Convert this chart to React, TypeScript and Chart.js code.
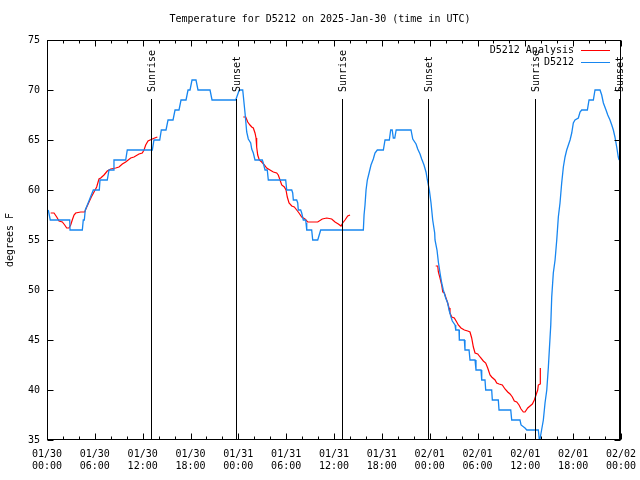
import { useEffect, useRef } from 'react';
import { Chart, registerables } from 'chart.js';

Chart.register(...registerables);

const TITLE = 'Temperature for D5212 on 2025-Jan-30 (time in UTC)';
const Y_LABEL = 'degrees F';
const SERIES_ANA = 'D5212 Analysis';
const SERIES_OBS = 'D5212';
const FONT = '"DejaVu Sans Mono", "Liberation Mono", monospace';

// x axis: hours since 01/30 00:00 UTC
const X_MIN = 0;
const X_MAX = 72;
const X_STEP = 2;
const X_LABEL_EVERY = 6;
const xTickDates = ['01/30', '01/30', '01/30', '01/30', '01/31', '01/31', '01/31', '01/31', '02/01', '02/01', '02/01', '02/01', '02/02'];
const xTickTimes = ['00:00', '06:00', '12:00', '18:00', '00:00', '06:00', '12:00', '18:00', '00:00', '06:00', '12:00', '18:00', '00:00'];

const Y_MIN = 35;
const Y_MAX = 75;
const Y_STEP = 5;

// Station observations (D5212)
const obsHours = [0.16, 0.41, 2.85, 2.89, 4.43, 4.55, 4.68, 4.8, 5.06, 5.31, 5.81, 6.56, 6.65, 7.56, 7.78, 8.28, 8.4, 9.87, 10.07, 13.21, 13.42, 14.14, 14.34, 14.93, 15.18, 15.81, 16.06, 16.56, 16.81, 17.44, 17.69, 17.94, 18.19, 18.69, 18.94, 20.45, 20.7, 23.67, 24.12, 24.55, 24.84, 25.05, 25.25, 25.55, 25.68, 25.88, 26.09, 27.01, 27.13, 27.35, 27.63, 27.76, 29.94, 30.07, 30.7, 30.82, 30.9, 31.32, 31.45, 31.52, 31.82, 31.95, 32.15, 32.45, 32.49, 32.58, 33.2, 33.33, 33.96, 34.33, 39.68, 39.77, 39.89, 40.02, 40.18, 40.43, 40.64, 40.93, 41.14, 41.43, 42.19, 42.4, 42.94, 43.11, 43.3, 43.44, 43.62, 43.8, 45.66, 45.88, 46.29, 46.5, 46.79, 47.0, 47.29, 47.54, 47.71, 47.96, 48.17, 48.38, 48.63, 48.67, 48.92, 49.09, 49.3, 49.51, 49.71, 50.01, 50.26, 50.43, 50.68, 50.84, 51.18, 51.27, 51.68, 51.72, 52.35, 52.43, 52.94, 53.06, 53.69, 53.81, 54.44, 54.53, 54.94, 55.03, 55.78, 55.86, 56.61, 56.7, 58.17, 58.29, 59.33, 59.46, 59.96, 60.18, 61.63, 61.78, 61.93, 62.26, 62.47, 62.69, 62.89, 63.01, 63.19, 63.31, 63.51, 63.73, 63.94, 64.14, 64.35, 64.56, 64.77, 64.98, 65.19, 65.61, 65.82, 66.02, 66.23, 66.65, 66.86, 67.07, 67.78, 67.99, 68.53, 68.74, 69.37, 69.58, 69.79, 70.12, 70.34, 70.62, 70.84, 71.04, 71.24, 71.46, 71.66, 71.76];
const obsTemps = [58, 57, 57, 56, 56, 57, 57, 58, 58.5, 59, 60, 60, 61, 61, 62, 62, 63, 63, 64, 64, 65, 65, 66, 66, 67, 67, 68, 68, 69, 69, 70, 70, 71, 71, 70, 70, 69, 69, 70, 70, 67.7, 65.8, 65.1, 64.7, 64.1, 63.7, 63, 63, 62.7, 62, 62, 61, 61, 60, 60, 59.7, 59, 59, 58.7, 58, 58, 57.7, 57, 57, 56.7, 56, 56, 55, 55, 56, 56, 57.5, 58.5, 60, 61, 61.8, 62.5, 63.1, 63.7, 64, 64, 65, 65, 66, 66, 65.2, 65.2, 66, 66, 65.1, 64.6, 64.1, 63.6, 63.1, 62.5, 61.8, 61, 60, 58.7, 57, 55.7, 55, 54, 52.8, 51.7, 50.7, 50, 49.2, 48.7, 48, 47.3, 46.9, 46.5, 46, 46, 45, 45, 44, 44, 43, 43, 42, 42, 41, 41, 40, 40, 39, 39, 38, 38, 37, 37, 36.5, 36.2, 36, 36, 34.8, 35.5, 37, 38.7, 40, 42.3, 44, 46.5, 49.3, 51.7, 53, 55, 57.3, 58.7, 60.7, 62.3, 63.3, 64, 65, 65.7, 66.7, 67, 67.2, 67.8, 68, 68, 69, 69, 70, 70, 69.5, 68.7, 68, 67.5, 67, 66.5, 66, 65.3, 64.3, 63.3, 63];

// Analysis (null = gap)
const anaHours = [0.46, 0.88, 1.22, 1.51, 1.92, 2.22, 2.47, 2.76, 2.97, 3.17, 3.39, 3.6, 4.23, 4.73, 4.93, 5.27, 5.56, 5.9, 6.23, 6.52, 6.74, 7.15, 7.56, 7.99, 8.62, 9.03, 9.45, 9.87, 10.5, 10.91, 11.54, 11.95, 12.17, 12.38, 12.67, 13.21, 13.51, 13.84,
  19,
  24.62, 24.93, 25.18, 25.46, 25.68, 25.88, 26.09, 26.22, 26.3, 26.43, 26.63, 26.93, 27.26, 27.56, 27.97, 28.39, 28.81, 29.01, 29.23, 29.44, 29.77, 29.98, 30.14, 30.36, 30.7, 31.02, 31.32, 31.61, 31.95, 32.36, 32.7, 33.2, 33.96, 34.53, 35.09, 35.71, 36.13, 36.54, 36.88, 37.09, 37.38, 37.72, 38.01,
  43,
  48.76, 49.01, 49.09, 49.3, 49.51, 49.64, 49.84, 50.05, 50.26, 50.43, 50.55, 50.77, 51.09, 51.39, 51.59, 51.93, 52.35, 52.77, 53.06, 53.27, 53.48, 53.69, 54.03, 54.32, 54.73, 55.03, 55.28, 55.57, 55.78, 56.2, 56.41, 56.7, 57.11, 57.45, 57.79, 58.08, 58.37, 58.62, 58.92, 59.21, 59.46, 59.75, 59.96, 60.3, 60.59, 60.88, 61.13, 61.34, 61.55, 61.63, 61.84, 61.88];
const anaTemps = [57.7, 57.7, 57.3, 56.9, 56.8, 56.5, 56.2, 56.2, 56.5, 57, 57.5, 57.7, 57.8, 57.8, 58.2, 58.8, 59.3, 59.8, 60.3, 61.1, 61.2, 61.5, 61.9, 62.1, 62.2, 62.3, 62.6, 62.8, 63.2, 63.3, 63.6, 63.7, 64, 64.5, 64.9, 65.1, 65.2, 65.3,
  null,
  67.3, 67.3, 66.8, 66.5, 66.3, 66.2, 65.7, 65.2, 64.3, 63.5, 63, 62.8, 62.5, 62.2, 62, 61.8, 61.7, 61.5, 61, 60.5, 60.3, 60, 59.3, 58.7, 58.4, 58.3, 58, 57.7, 57.3, 57.1, 56.8, 56.8, 56.8, 57.1, 57.2, 57.1, 56.8, 56.6, 56.4, 56.7, 57, 57.4, 57.5,
  null,
  52.4, 52.4, 51.8, 51.2, 50.5, 49.8, 49.7, 49.2, 48.7, 48.2, 47.7, 47.3, 47.2, 46.8, 46.5, 46.2, 46, 45.9, 45.8, 45.2, 44.3, 43.7, 43.6, 43.3, 42.9, 42.7, 42.2, 41.5, 41.3, 41, 40.7, 40.6, 40.5, 40.1, 39.8, 39.6, 39.3, 38.9, 38.8, 38.5, 38.1, 37.8, 37.8, 38.2, 38.4, 38.6, 39, 39.5, 40, 40.5, 40.6, 42.2];

// Sun events
const sunHours = [13.08, 23.65, 37.04, 47.73, 61.18, 71.76];
const sunLabels = ['Sunrise', 'Sunset', 'Sunrise', 'Sunset', 'Sunrise', 'Sunset'];
const SUN_LINE_TOP = 69.1;

const ANA_COLOR = '#ff0000';
const OBS_COLOR = '#1786f0';

const gnuplotDecor = {
  id: 'gnuplotDecor',
  afterDraw(chart: any) {
    const ctx = chart.ctx as CanvasRenderingContext2D;
    const area = chart.chartArea;
    const xs = chart.scales.x;
    const ys = chart.scales.y;
    ctx.save();
    ctx.font = `10px ${FONT}`;
    ctx.fillStyle = '#000';
    ctx.strokeStyle = '#000';
    ctx.lineWidth = 1;

    // sun lines + labels
    sunHours.forEach((h, i) => {
      const px = Math.round(xs.getPixelForValue(h)) + 0.5;
      const top = Math.round(ys.getPixelForValue(SUN_LINE_TOP));
      ctx.beginPath();
      ctx.moveTo(px, area.bottom);
      ctx.lineTo(px, top);
      ctx.stroke();
      ctx.save();
      ctx.translate(px + 1, top - 7);
      ctx.rotate(-Math.PI / 2);
      ctx.textAlign = 'left';
      ctx.textBaseline = 'middle';
      ctx.fillText(sunLabels[i], 0, 0);
      ctx.restore();
    });

    // border box
    const L = Math.round(area.left) + 0.5;
    const R = Math.round(area.right) - 0.5;
    const T = Math.round(area.top) + 0.5;
    const B = Math.round(area.bottom) - 0.5;
    ctx.strokeRect(L, T, R - L, B - T);

    // inward ticks (mirrored)
    ctx.beginPath();
    xs.ticks.forEach((t: any) => {
      const px = Math.round(xs.getPixelForValue(t.value)) + 0.5;
      const len = t.value % X_LABEL_EVERY === 0 ? 6 : 3;
      ctx.moveTo(px, B);
      ctx.lineTo(px, B - len);
      ctx.moveTo(px, T);
      ctx.lineTo(px, T + len);
    });
    ys.ticks.forEach((t: any) => {
      const py = Math.round(ys.getPixelForValue(t.value)) + 0.5;
      ctx.moveTo(L, py);
      ctx.lineTo(L + 6, py);
      ctx.moveTo(R, py);
      ctx.lineTo(R - 6, py);
    });
    ctx.stroke();

    // title
    ctx.textAlign = 'center';
    ctx.textBaseline = 'middle';
    ctx.fillText(TITLE, chart.width / 2, 19);

    // y label
    ctx.save();
    ctx.translate(10, (area.top + area.bottom) / 2);
    ctx.rotate(-Math.PI / 2);
    ctx.textAlign = 'center';
    ctx.textBaseline = 'middle';
    ctx.fillText(Y_LABEL, 0, 0);
    ctx.restore();

    // legend
    const entries = [
      { label: SERIES_ANA, color: ANA_COLOR },
      { label: SERIES_OBS, color: OBS_COLOR },
    ];
    entries.forEach((e, i) => {
      const y = area.top + 10 + i * 12;
      ctx.fillStyle = '#000';
      ctx.textAlign = 'right';
      ctx.textBaseline = 'middle';
      ctx.fillText(e.label, area.right - 47, y);
      ctx.strokeStyle = e.color;
      ctx.lineWidth = 1;
      ctx.beginPath();
      ctx.moveTo(area.right - 40, Math.round(y) + 0.5);
      ctx.lineTo(area.right - 11, Math.round(y) + 0.5);
      ctx.stroke();
    });
    ctx.restore();
  },
};

export default function App() {
  const ref = useRef<HTMLCanvasElement | null>(null);
  useEffect(() => {
    document.body.style.margin = '0';
    const canvas = ref.current;
    if (!canvas) return;
    const anaData = anaHours.map((h, i) => ({ x: h, y: anaTemps[i] }));
    const obsData = obsHours.map((h, i) => ({ x: h, y: obsTemps[i] }));
    const tickFont = { family: FONT, size: 10, lineHeight: 1.25 };
    const chart = new Chart(canvas, {
      type: 'line',
      data: {
        datasets: [
          {
            label: SERIES_ANA,
            data: anaData as any,
            borderColor: ANA_COLOR,
            backgroundColor: ANA_COLOR,
            borderWidth: 1.2,
            pointRadius: 0,
            tension: 0,
            spanGaps: false,
            order: 2,
          },
          {
            label: SERIES_OBS,
            data: obsData as any,
            borderColor: OBS_COLOR,
            backgroundColor: OBS_COLOR,
            borderWidth: 1.3,
            pointRadius: 0,
            tension: 0,
            order: 1,
          },
        ],
      },
      options: {
        responsive: false,
        animation: false,
        events: [],
        layout: { padding: { top: 40, right: 19, left: 0, bottom: 0 } },
        plugins: {
          legend: { display: false },
          tooltip: { enabled: false },
          title: { display: false },
        },
        scales: {
          x: {
            type: 'linear',
            min: X_MIN,
            max: X_MAX,
            grid: { display: false, drawTicks: false },
            border: { display: false },
            ticks: {
              stepSize: X_STEP,
              autoSkip: false,
              maxRotation: 0,
              minRotation: 0,
              padding: 8,
              color: '#000',
              font: tickFont,
              callback: (v: any) => {
                const n = Number(v);
                if (n % X_LABEL_EVERY !== 0) return '';
                const k = n / X_LABEL_EVERY;
                return [xTickDates[k], xTickTimes[k]];
              },
            },
            afterFit: (s: any) => {
              s.height = 40;
              s.paddingLeft = 0;
              s.paddingRight = 0;
            },
          },
          y: {
            min: Y_MIN,
            max: Y_MAX,
            grid: { display: false, drawTicks: false },
            border: { display: false },
            ticks: {
              stepSize: Y_STEP,
              padding: 7,
              color: '#000',
              font: tickFont,
            },
            afterFit: (s: any) => {
              s.width = 47;
              s.paddingTop = 0;
              s.paddingBottom = 0;
            },
          },
        },
      },
      plugins: [gnuplotDecor],
    });
    return () => chart.destroy();
  }, []);
  return <canvas ref={ref} width={640} height={480} style={{ display: 'block' }} />;
}
